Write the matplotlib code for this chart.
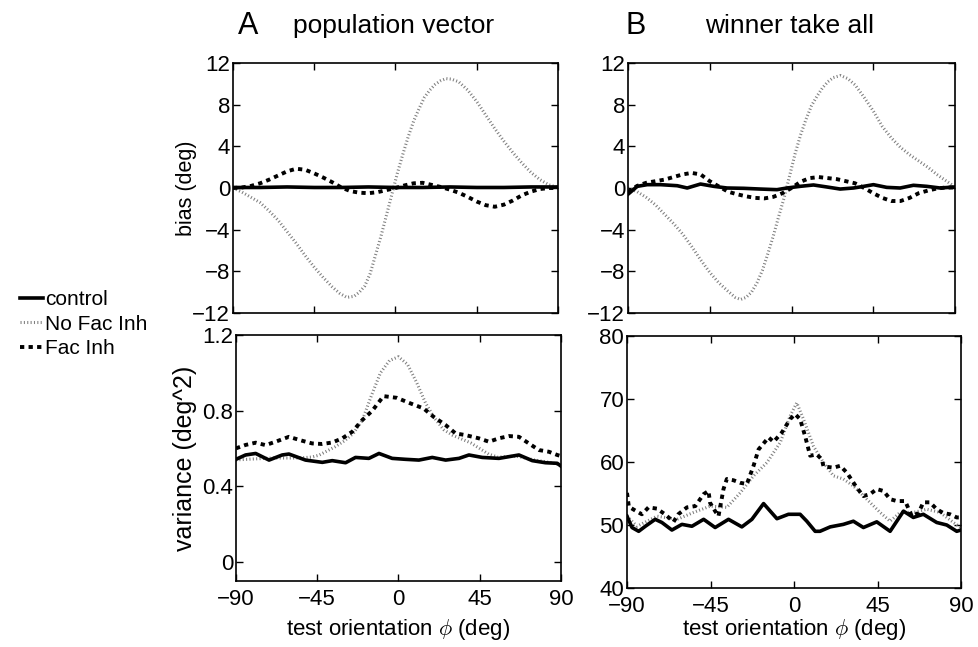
import numpy as np
import matplotlib.pyplot as plt
from matplotlib.lines import Line2D

plt.rcParams['font.family'] = ['Liberation Sans', 'DejaVu Sans']
plt.rcParams['mathtext.fontset'] = 'cm'

# ---- panel A, bias ----
a_bias_ctrl_x = [-90, -75, -60, -45, -30, -15, 0, 15, 30, 45, 60, 75, 90]
a_bias_ctrl = [0.05, 0.05, 0.1, 0.05, 0.05, 0.1, 0.05, 0.05, 0.1, 0.05, 0.05, 0.1, 0.1]

a_bias_nofac_x = [-90, -85, -80, -75, -70, -65, -60, -55, -50, -45, -40, -35, -31, -27, -23,
                  -20, -17, -14, -11, -8, -5, -2, 1, 4, 7, 10, 13, 16, 19, 22, 25, 28, 31,
                  35, 40, 45, 50, 55, 60, 65, 70, 75, 80, 85, 90]
a_bias_nofac = [0, -0.4, -0.9, -1.4, -2.2, -3.1, -4.2, -5.3, -6.5, -7.6, -8.6, -9.5, -10.1,
                -10.5, -10.4, -10.0, -9.4, -8.2, -6.4, -4.6, -2.6, -0.6, 1.4, 3.2, 4.9, 6.4,
                7.6, 8.7, 9.4, 9.95, 10.3, 10.5, 10.45, 10.2, 9.4, 8.3, 7.0, 5.7, 4.5, 3.4,
                2.4, 1.5, 0.8, 0.3, 0.05]

a_bias_fac_x = [-90, -85, -80, -75, -70, -65, -60, -55, -50, -45, -40, -35, -30, -25, -20,
                -15, -10, -5, 0, 5, 10, 15, 20, 25, 30, 35, 40, 45, 50, 55, 60, 65, 70, 75,
                80, 85, 90]
a_bias_fac = [0, 0.05, 0.2, 0.45, 0.8, 1.2, 1.6, 1.85, 1.75, 1.4, 1.0, 0.55, 0.05, -0.3,
              -0.45, -0.5, -0.4, -0.2, 0.0, 0.25, 0.45, 0.5, 0.3, 0.1, -0.15, -0.45, -0.85,
              -1.3, -1.65, -1.8, -1.6, -1.2, -0.7, -0.35, -0.1, 0, 0]

# ---- panel B, bias ----
b_bias_ctrl_x = [-90, -84.9, -79.4, -72.1, -62.9, -57.4, -50.1, -42.8, -35.5, -26.3, -17.2,
                 -8.0, -2.5, 4.8, 12.1, 19.4, 26.8, 34.1, 37.8, 45.1, 52.4, 59.8, 67.1, 74.4,
                 81.8, 90]
b_bias_ctrl = [-0.6, 0.16, 0.32, 0.32, 0.22, 0, 0.38, 0.16, 0, -0.03, -0.1,
               -0.16, 0, 0.16, 0.29, 0.1, -0.1, 0, 0.1, 0.32, 0.06, 0, 0.26, 0.16,
               0, 0.1]

b_bias_nofac_x = [-90, -85, -80, -75, -70, -65, -60, -55, -50, -45, -40, -35, -31, -28, -25,
                  -22, -19, -16, -13, -10, -7, -4, -1, 2, 5, 8, 11, 14, 17, 20, 23, 27, 31,
                  35, 40, 45, 50, 55, 60, 65, 70, 75, 80, 85, 90]
b_bias_nofac = [0, -0.35, -0.9, -1.6, -2.5, -3.4, -4.4, -5.6, -6.9, -8.1, -9.1, -9.9, -10.5,
                -10.7, -10.5, -10.0, -9.1, -7.9, -6.3, -4.6, -2.7, -0.9, 1.2, 3.3, 5.1, 6.6,
                7.9, 8.8, 9.6, 10.2, 10.6, 10.8, 10.5, 9.9, 8.7, 7.4, 5.9, 4.8, 3.9, 3.2,
                2.6, 2.0, 1.3, 0.7, 0.1]

b_bias_fac_x = [-90, -85, -80, -75, -70, -65, -60, -55, -50, -45, -40, -35, -30, -25, -20,
                -15, -10, -5, 0, 5, 10, 15, 20, 25, 30, 35, 40, 45, 50, 55, 60, 65, 70, 75,
                80, 85, 90]
b_bias_fac = [-0.4, 0.2, 0.5, 0.65, 0.8, 1.05, 1.3, 1.45, 1.3, 0.65, 0.15, -0.35, -0.6,
              -0.8, -0.95, -1.0, -0.85, -0.5, 0.0, 0.6, 0.95, 1.05, 0.95, 0.85, 0.65, 0.45,
              0.0, -0.5, -0.95, -1.25, -1.25, -0.95, -0.5, -0.25, -0.05, 0.05, 0.05]

# ---- panel A, variance ----
a_var_ctrl_x = [-90, -84.7, -79.1, -71.7, -64.4, -60.7, -51.5, -42.2, -36.7, -29.3, -23.8,
                -16.4, -10.8, -3.5, 3.9, 11.3, 18.7, 26.1, 33.5, 39.0, 46.4, 55.6, 66.7,
                74.1, 81.4, 87.9, 90]
a_var_ctrl = [0.543, 0.566, 0.574, 0.539, 0.566, 0.571, 0.539, 0.527, 0.536, 0.525, 0.553,
              0.548, 0.574, 0.548, 0.543, 0.539, 0.553, 0.539, 0.548, 0.566, 0.553, 0.548, 0.566,
              0.536, 0.525, 0.522, 0.507]

a_var_nofac_x = [-90, -70, -55, -48, -44, -40, -35, -30, -25, -20, -15, -10, -5, 0,
                 5, 10, 15, 20, 25, 30, 35, 40, 45, 50, 55, 65, 75, 85, 90]
a_var_nofac = [0.54, 0.55, 0.55, 0.555, 0.565, 0.585, 0.61, 0.64, 0.68, 0.75, 0.88, 1.0,
               1.065, 1.085, 1.045, 0.95, 0.84, 0.76, 0.70, 0.67, 0.65, 0.63, 0.6, 0.57,
               0.555, 0.56, 0.54, 0.525, 0.51]

a_var_fac_x = [-90, -84.7, -79.1, -73.6, -68.1, -60.7, -53.3, -47.8, -42.2, -36.7, -31.1,
               -25.6, -20.1, -14.5, -8.3, -0.9, 6.5, 13.9, 19.4, 26.1, 31.6, 37.1, 44.5,
               50.1, 55.6, 61.2, 66.7, 72.2, 77.8, 83.3, 87.9, 90]
a_var_fac = [0.601, 0.619, 0.631, 0.618, 0.636, 0.662, 0.641, 0.627, 0.624, 0.632, 0.654,
             0.689, 0.75, 0.80, 0.877, 0.868, 0.839, 0.812, 0.768, 0.724, 0.68, 0.671, 0.654,
             0.636, 0.654, 0.666, 0.662, 0.627, 0.592, 0.583, 0.566, 0.56]

# ---- panel B, variance ----
b_var_ctrl_x = [-90, -87.3, -83.7, -80.1, -74.8, -71.2, -65.8, -60.4, -55.0, -48.7, -42.5,
                -35.3, -28.1, -22.7, -16.4, -9.2, -3.0, 3.3, 6.9, 11.4, 14.0, 19.5, 26.6,
                32.0, 37.4, 44.6, 51.8, 59.0, 64.3, 69.7, 76.9, 82.3, 87.7, 90]
b_var_ctrl = [51.4, 49.6, 49.0, 49.8, 50.9, 50.4, 49.2, 50.1, 49.8, 50.9, 49.6,
              50.9, 49.7, 50.9, 53.4, 51.0, 51.7, 51.7, 50.6, 49.0, 49.0, 49.7, 50.1,
              50.6, 49.6, 50.5, 49.0, 52.2, 51.2, 51.7, 50.4, 50.0, 49.0, 49.2]

b_var_nofac_x = [-90, -84.6, -73.8, -63.0, -54.1, -45.1, -36.2, -29.0, -21.8, -14.6, -7.4,
                 -2.1, 1.5, 5.1, 10.5, 15.9, 21.3, 26.6, 32.0, 39.2, 46.4, 51.8, 57.2,
                 64.4, 71.5, 78.7, 85.9, 90]
b_var_nofac = [51.4, 49.8, 51.4, 50.9, 52.0, 53.0, 52.8, 55.1, 57.8, 59.9, 63.1,
               67.3, 69.4, 66.8, 62.5, 59.9, 57.8, 57.3, 56.2, 54.1, 52.0, 50.6, 52.0,
               52.0, 52.5, 52.0, 50.4, 49.6]

b_var_fac_x = [-90, -89, -85, -82, -78.4, -73.9, -69.5, -64.9, -62.4, -57.7, -53.2, -48.7,
               -46.1, -45.2, -42.5, -40.7, -38.0, -36.2, -32.6, -29.0, -25.4, -21.8, -19.1,
               -13.7, -11.0, -6.5, -2.1, 0.6, 3.3, 6.0, 8.7, 12.3, 15.0, 15.9, 21.3, 24.9,
               28.5, 33.9, 37.4, 41.0, 44.6, 48.2, 51.8, 55.4, 59.9, 63.5, 67.1, 69.7, 73.3,
               76.9, 80.5, 84.1, 87.7, 90]
b_var_fac = [55.1, 52.9, 52.2, 51.7, 52.8, 52.6, 51.7, 50.5, 51.7, 52.8, 53.0, 54.9,
             55.4, 53.5, 52.2, 51.4, 55.7, 57.3, 57.1, 56.7, 56.5, 59.4, 62.0,
             63.9, 63.2, 64.7, 66.8, 67.6, 66.8, 64.1, 61.0, 61.2, 60.4, 59.3, 59.1, 59.4,
             58.3, 55.9, 54.6, 54.9, 55.7, 55.4, 54.1, 53.8, 53.8, 51.4, 51.9, 53.6, 53.6,
             52.5, 51.9, 51.7, 51.2, 51.2]

x_ticks = [-90, -45, 0, 45, 90]

ctrl_style = dict(color='black', lw=2.6, linestyle='-')
nofac_style = dict(color='0.5', lw=2.2, linestyle=(0, (0.35, 0.75)), dash_capstyle='butt')
fac_style = dict(color='black', lw=2.8, linestyle=(0, (1.1, 1.1)), dash_capstyle='butt')


def style_axes(ax):
    ax.set_xlim(-90, 90)
    ax.set_xticks(x_ticks)
    ax.tick_params(direction='in', top=True, right=True, length=5, width=1,
                   labelsize=16, pad=2)
    ax.tick_params(axis='x', pad=6)
    for s in ax.spines.values():
        s.set_linewidth(1.2)


fig = plt.figure(figsize=(9.79, 6.47), dpi=100)
W, H = 979.0, 647.0


def add_ax(l, t, r, b):
    return fig.add_axes([l / W, 1 - b / H, (r - l) / W, (b - t) / H])


ax_a1 = add_ax(233, 63, 558, 313)
ax_b1 = add_ax(628, 63, 955, 313)
ax_a2 = add_ax(236, 335, 561, 581)
ax_b2 = add_ax(627, 336, 961, 588)

for ax, cx, cy, nx, ny, fx, fy in [
        (ax_a1, a_bias_ctrl_x, a_bias_ctrl, a_bias_nofac_x, a_bias_nofac, a_bias_fac_x, a_bias_fac),
        (ax_b1, b_bias_ctrl_x, b_bias_ctrl, b_bias_nofac_x, b_bias_nofac, b_bias_fac_x, b_bias_fac)]:
    ax.plot(nx, ny, **nofac_style)
    ax.plot(fx, fy, **fac_style)
    ax.plot(cx, cy, **ctrl_style)
    style_axes(ax)
    ax.set_ylim(-12, 12)
    ax.set_yticks([-12, -8, -4, 0, 4, 8, 12])
    ax.set_xticklabels([])

for ax, cx, cy, nx, ny, fx, fy in [
        (ax_a2, a_var_ctrl_x, a_var_ctrl, a_var_nofac_x, a_var_nofac, a_var_fac_x, a_var_fac),
        (ax_b2, b_var_ctrl_x, b_var_ctrl, b_var_nofac_x, b_var_nofac, b_var_fac_x, b_var_fac)]:
    ax.plot(nx, ny, **nofac_style)
    ax.plot(fx, fy, **fac_style)
    ax.plot(cx, cy, **ctrl_style)
    style_axes(ax)

ax_a2.set_xlabel(r'test orientation $\phi$ (deg)', fontsize=16, labelpad=5)
ax_b2.set_xlabel(r'test orientation $\phi$ (deg)', fontsize=16, labelpad=0)

ax_a2.set_ylim(-0.1, 1.2)
ax_a2.set_yticks([0, 0.4, 0.8, 1.2])
ax_a2.set_yticklabels(['0', '0.4', '0.8', '1.2'])
ax_b2.set_ylim(40, 80)
ax_b2.set_yticks([40, 50, 60, 70, 80])

ax_a1.set_ylabel('bias (deg)', fontsize=15.5)
ax_a1.yaxis.set_label_coords(-0.11, 0.5)
ax_a2.set_ylabel('variance (deg^2)', fontsize=18)
ax_a2.yaxis.set_label_coords(-0.12, 0.5)

# panel titles
fig.text(248 / W, 1 - 26 / H, 'A', fontsize=22, ha='center', va='center')
fig.text(394 / W, 1 - 26 / H, 'population vector', fontsize=19, ha='center', va='center')
fig.text(636 / W, 1 - 26 / H, 'B', fontsize=22, ha='center', va='center')
fig.text(790 / W, 1 - 26 / H, 'winner take all', fontsize=19, ha='center', va='center')

handles = [Line2D([], [], **ctrl_style), Line2D([], [], **nofac_style),
           Line2D([], [], **fac_style)]
fig.legend(handles, ['control', 'No Fac Inh', 'Fac Inh'], loc='upper left',
           bbox_to_anchor=(10 / W, 1 - 280 / H), frameon=False, fontsize=15,
           handlelength=1.1, handletextpad=0.1, labelspacing=0.25, borderpad=0)

fig.savefig('out.png', dpi=100)
